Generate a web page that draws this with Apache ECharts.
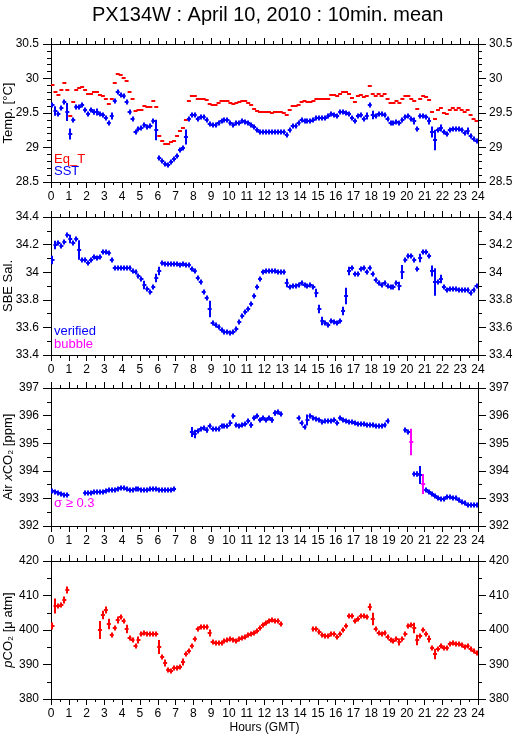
<!DOCTYPE html>
<html><head><meta charset="utf-8">
<script src="https://cdn.jsdelivr.net/npm/echarts@6/dist/echarts.min.js"></script>
<style>html,body{margin:0;padding:0;background:#fff}#c{width:515px;height:739px}</style>
</head><body><div id="c"></div>
<script>
// ---------- data (10-min bins, 144 per day, null = no data) ----------
const hourTicks = [0,1,2,3,4,5,6,7,8,9,10,11,12,13,14,15,16,17,18,19,20,21,22,23,24];

const eqT = [
 29.90,29.81,29.76,29.83,29.94,29.83, 29.46,29.66,29.83,29.86,29.88,29.83,
 29.78,29.78,29.81,29.81,29.76,29.75, 29.71,29.63,29.71,29.93,30.07,30.05,
 30.01,29.96,29.81,29.71,29.53,29.54, 29.55,29.60,29.58,29.59,29.67,29.58,
 29.16,29.10,29.05,29.05,29.08,29.10, 29.16,29.24,29.28,29.40,29.67,29.74,
 29.74,29.71,29.71,29.71,29.69,29.63, 29.62,29.62,29.65,29.68,29.68,29.68,
 29.64,29.63,29.65,29.66,29.68,29.68, 29.65,29.61,29.56,29.53,29.52,29.51,
 29.51,29.51,29.50,29.51,29.51,29.51, 29.50,29.47,29.55,29.60,29.60,29.62,
 29.66,29.68,29.66,29.66,29.68,29.71, 29.71,29.71,29.71,29.71,29.76,29.76,
 29.75,29.78,29.80,29.80,29.77,29.72, 29.66,29.74,29.76,29.73,29.75,29.89,
 29.78,29.74,29.78,29.74,29.78,29.71, 29.65,29.65,29.68,29.65,29.70,29.74,
 29.75,29.71,29.67,29.56,29.71,29.75, 29.73,29.69,29.51,29.41,29.54,29.57,
 29.50,29.48,29.54,29.57,29.54,29.57, 29.54,29.51,29.54,29.47,29.42,29.39];

const sst = [
 29.62,29.53,29.49,29.57,29.66,29.52, 29.20,29.40,29.58,29.58,29.61,29.55,
 29.49,29.55,29.51,29.52,29.49,29.47, 29.43,29.35,29.46,29.67,29.81,29.76,
 29.74,29.66,29.52,29.41,29.23,29.27, 29.28,29.32,29.29,29.31,29.38,29.26,
 28.85,28.81,28.76,28.75,28.79,28.83, 28.88,28.97,29.00,29.15,29.41,29.47,
 29.47,29.42,29.44,29.44,29.40,29.34, 29.33,29.33,29.36,29.39,29.40,29.40,
 29.36,29.33,29.35,29.35,29.38,29.37, 29.35,29.33,29.30,29.25,29.23,29.23,
 29.23,29.22,29.22,29.22,29.23,29.22, 29.23,29.18,29.26,29.31,29.31,29.35,
 29.40,29.39,29.38,29.38,29.40,29.43, 29.43,29.43,29.43,29.45,29.49,29.47,
 29.45,29.51,29.52,29.50,29.49,29.43, 29.38,29.46,29.47,29.42,29.46,29.61,
 29.47,29.46,29.48,29.48,29.47,29.41, 29.35,29.35,29.37,29.35,29.40,29.44,
 29.46,29.42,29.38,29.27,29.45,29.46, 29.44,29.38,29.22,29.11,29.26,29.28,
 29.22,29.20,29.25,29.27,29.27,29.27, 29.25,29.21,29.24,29.17,29.12,29.09];
const sstSd = {1:0.07,5:0.13,6:0.08,14:0.04,15:0.05,20:0.05,35:0.15,45:0.11,106:0.05,108:0.06,122:0.05,127:0.05,128:0.08,129:0.15,131:0.05,140:0.05};

const sal = [
 34.09,34.20,34.21,34.19,34.22,34.27, 34.24,34.21,34.24,34.16,34.09,34.09,
 34.07,34.09,34.11,34.10,34.11,34.15, 34.15,34.14,34.09,34.03,34.03,34.03,
 34.03,34.03,34.03,34.01,34.00,33.97, 33.95,33.91,33.88,33.86,33.89,33.96,
 34.01,34.07,34.06,34.06,34.06,34.06, 34.06,34.05,34.06,34.05,34.05,34.02,
 34.01,33.96,33.93,33.86,33.81,33.73, 33.63,33.62,33.60,33.58,33.57,33.57,
 33.56,33.57,33.59,33.64,33.68,33.71, 33.73,33.77,33.83,33.89,33.95,34.00,
 34.01,34.01,34.01,34.01,34.00,34.00, 34.00,33.92,33.89,33.90,33.90,33.91,
 33.92,33.91,33.90,33.91,33.89,33.85, 33.73,33.65,33.63,33.62,33.65,33.64,
 33.63,33.65,33.72,33.83,34.01,34.03, 33.99,33.99,34.02,34.03,34.00,34.03,
 33.99,33.94,33.92,33.91,33.92,33.90, 33.89,33.89,33.92,33.90,34.00,34.09,
 34.12,34.12,34.09,34.02,34.10,34.15, 34.15,34.12,34.01,33.93,33.93,33.95,
 33.89,33.87,33.88,33.88,33.88,33.87, 33.87,33.87,33.87,33.85,33.87,33.90];
const salSd = {0:0.03,1:0.03,6:0.03,9:0.07,31:0.03,35:0.03,36:0.03,53:0.06,79:0.03,89:0.03,90:0.03,91:0.03,98:0.03,99:0.06,100:0.03,117:0.03,118:0.05,124:0.03,128:0.04,129:0.1,131:0.03};

const xco2 = [
 393.27,393.24,393.20,393.17,393.14,393.11, null,null,null,null,null,393.18,
 393.19,393.20,393.22,393.23,393.24,393.25, 393.27,393.31,393.31,393.32,393.34,393.36,
 393.36,393.35,393.30,393.31,393.35,393.33, 393.31,393.32,393.32,393.35,393.35,393.33,
 393.30,393.31,393.31,393.31,393.29,393.35, null,null,null,null,null,395.40,
 395.35,395.46,395.50,395.54,395.47,395.61, 395.52,395.52,395.50,395.61,395.61,395.61,
 395.73,395.98,395.65,395.61,395.65,395.70, 395.80,395.66,395.92,395.97,395.84,395.90,
 395.84,395.90,395.84,396.11,396.13,396.05, null,null,null,null,null,395.90,
 395.73,395.57,395.84,395.97,395.93,395.87, 395.84,395.78,395.80,395.80,395.80,395.84,
 395.73,395.90,395.84,395.81,395.78,395.78, 395.75,395.69,395.69,395.69,395.66,395.65,
 395.65,395.63,395.61,395.63,395.66,395.80, null,null,null,null,null,395.48,
 395.42,395.06,393.90,393.90,393.84,393.51, 393.29,393.24,393.17,393.08,393.00,392.99,
 392.99,393.06,393.05,393.02,393.02,392.93, 392.88,392.84,392.76,392.77,392.77,392.77];
const xco2Sd = {47:0.18,48:0.15,50:0.08,52:0.1,60:0.1,62:0.08,67:0.1,74:0.1,75:0.1,84:0.08,86:0.2,121:0.48,123:0.1,124:0.33,125:0.36,129:0.06};
const xco2Flag = [121,125];   // sigma >= 0.3

const pco2 = [
 401.3,407.1,407.1,407.3,408.8,411.5, null,null,null,null,null,null,
 null,null,null,null,400.0,404.4, 405.9,401.6,398.5,400.6,402.9,403.7,
 402.7,400.2,397.8,397.0,395.4,397.1, 398.7,399.2,398.8,398.9,398.8,398.7,
 395.0,392.1,390.3,388.4,388.0,389.0, 389.1,389.3,390.8,393.1,394.0,395.4,
 397.5,400.4,401.0,401.0,401.0,399.2, 396.6,396.1,396.1,396.1,396.8,397.1,
 397.3,397.0,396.9,397.3,397.6,398.1, 398.6,398.7,399.2,399.8,400.6,401.5,
 402.1,402.5,402.8,402.7,402.6,401.8, null,null,null,null,null,null,
 null,null,null,null,400.3,400.3, 399.4,398.5,398.3,398.2,398.9,398.7,
 398.1,398.8,400.0,401.3,404.1,404.1, 402.5,403.1,404.2,404.2,403.8,406.7,
 403.1,400.3,399.0,398.9,399.0,398.1, 397.1,396.8,397.3,396.4,397.3,398.9,
 401.1,401.5,400.5,397.1,398.3,400.0, 398.9,397.5,394.8,393.0,394.6,395.5,
 394.9,394.8,395.8,396.1,396.0,396.0, 395.6,395.0,395.5,394.5,393.8,393.2];
const pco2Sd = {0:1.0,1:2.2,4:1.0,5:1.0,16:2.6,17:1.2,18:1.0,19:1.5,22:1.0,25:1.2,29:1.0,36:2.0,38:1.0,44:1.0,53:1.0,107:1.0,108:1.8,117:1.0,122:1.5,123:1.5,127:1.0,129:1.5};

// ---------- helpers ----------
const FONT = 'Liberation Sans, Arial, Helvetica, sans-serif';
function items(vals, sdMap, flags) {
  const out = [];
  vals.forEach((v, i) => {
    if (v == null) return;
    out.push([i / 6 + 1 / 12, v, (sdMap && sdMap[i]) || 0, (flags && flags.indexOf(i) >= 0) ? 1 : 0]);
  });
  return out;
}
function cross(color, hOnly) {
  return function (params, api) {
    const t = api.value(0), v = api.value(1), sd = api.value(2), flag = api.value(3);
    const c = flag ? '#ff00ff' : color;
    const l = api.coord([t - 1 / 12, v]), r = api.coord([t + 1 / 12, v]);
    const y = Math.round(l[1]);
    const ch = [{ type: 'line', shape: { x1: l[0] - 0.5, y1: y, x2: r[0] + 0.5, y2: y },
      style: { stroke: c, lineWidth: 2 } }];
    if (!hOnly) {
      const top = api.coord([t, v + sd])[1], bot = api.coord([t, v - sd])[1];
      const half = Math.max((bot - top) / 2, 2.5);
      const cx = Math.round((l[0] + r[0]) / 2);
      ch.push({ type: 'line', shape: { x1: cx, y1: y - half, x2: cx, y2: y + half },
        style: { stroke: c, lineWidth: 2 } });
    }
    return { type: 'group', children: ch };
  };
}

const tops = [44, 217, 388, 561];
const H = 138;
const grids = tops.map(t => ({ left: 51, right: 37, top: t, height: H,
  containLabel: false, outerBoundsMode: 'none' }));

const lineStyle = { color: '#000', width: 1 };
const xAxes = [], yAxes = [];
tops.forEach((t, g) => {
  const base = {
    type: 'value', gridIndex: g, min: 0, max: 24, interval: 1,
    axisLine: { show: true, onZero: false, lineStyle },
    axisTick: { show: true, inside: false, length: 6, lineStyle },
    minorTick: { show: true, splitNumber: 2, length: 3, lineStyle },
    splitLine: { show: false }, minorSplitLine: { show: false }
  };
  xAxes.push(Object.assign({}, base, {
    position: 'bottom',
    axisLabel: { show: true, margin: 9, color: '#000', fontSize: 12, fontFamily: FONT,
      formatter: v => (hourTicks.indexOf(v) >= 0 ? String(v) : '') },
    name: g === 3 ? 'Hours (GMT)' : '', nameLocation: 'middle', nameGap: 23,
    nameMoveOverlap: false,
    nameTextStyle: { color: '#000', fontSize: 12, fontFamily: FONT }
  }));
  xAxes.push(Object.assign({}, base, { position: 'top', axisLabel: { show: false } }));
});

const ySpec = [
  { min: 28.5, max: 30.5, interval: 0.5, split: 5, name: 'Temp. [°C]', fmt: v => String(+v.toFixed(1)) },
  { min: 33.4, max: 34.4, interval: 0.2, split: 2, name: 'SBE Sal.', fmt: v => String(+v.toFixed(1)) },
  { min: 392, max: 397, interval: 1, split: 2, name: '{i|x}CO₂ [ppm]', pre: 'Air ', fmt: v => String(v) },
  { min: 380, max: 420, interval: 10, split: 2, name: '{i|p}CO₂ [μ atm]', fmt: v => String(v) }
];
ySpec.forEach((s, g) => {
  const base = {
    type: 'value', gridIndex: g, min: s.min, max: s.max, interval: s.interval,
    axisLine: { show: true, onZero: false, lineStyle },
    axisTick: { show: true, inside: false, length: 8, lineStyle },
    minorTick: { show: true, splitNumber: s.split, length: 4, lineStyle },
    splitLine: { show: false }, minorSplitLine: { show: false }
  };
  const lab = { show: true, color: '#000', fontSize: 12, fontFamily: FONT, formatter: s.fmt };
  yAxes.push(Object.assign({}, base, {
    position: 'left', axisLabel: Object.assign({ margin: 12 }, lab),
    name: (s.pre || '') + s.name, nameLocation: 'middle', nameGap: 36,
    nameMoveOverlap: false,
    nameTextStyle: { color: '#000', fontSize: 13, fontFamily: FONT,
      rich: { i: { fontStyle: 'italic', fontSize: 13, fontFamily: FONT, color: '#000' } } }
  }));
  yAxes.push(Object.assign({}, base, { position: 'right', axisLabel: Object.assign({ margin: 11 }, lab) }));
});

function ser(g, data, color, hOnly) {
  return { type: 'custom', xAxisIndex: 2 * g, yAxisIndex: 2 * g, data: data,
    renderItem: cross(color, hOnly), encode: { x: 0, y: 1 }, silent: true, animation: false, clip: true };
}

const txt = (x, y, s, c) => ({ type: 'text', left: x, top: y,
  style: { text: s, fill: c, font: '13px ' + FONT } });

const option = {
  animation: false,
  backgroundColor: '#fff',
  title: { text: 'PX134W : April 10, 2010 : 10min. mean', left: 87, top: 0,
    textStyle: { fontSize: 20, fontWeight: 'normal', color: '#000', fontFamily: FONT } },
  grid: grids,
  xAxis: xAxes,
  yAxis: yAxes,
  series: [
    ser(0, items(eqT, null), '#ff0000', true),
    ser(0, items(sst, sstSd), '#0000ff', false),
    ser(1, items(sal, salSd), '#0000ff', false),
    ser(2, items(xco2, xco2Sd, xco2Flag), '#0000ff', false),
    ser(3, items(pco2, pco2Sd), '#ff0000', false)
  ],
  graphic: [
    txt(54, 153, 'Eq_T', '#ff0000'),
    txt(54, 165, 'SST', '#0000ff'),
    txt(54, 325, 'verified', '#0000ff'),
    txt(54, 338, 'bubble', '#ff00ff'),
    txt(54, 497, 'σ ≥ 0.3', '#ff00ff')
  ]
};
const chart = echarts.init(document.getElementById('c'), null, { renderer: 'canvas' });
chart.setOption(option);
</script>
</body></html>
